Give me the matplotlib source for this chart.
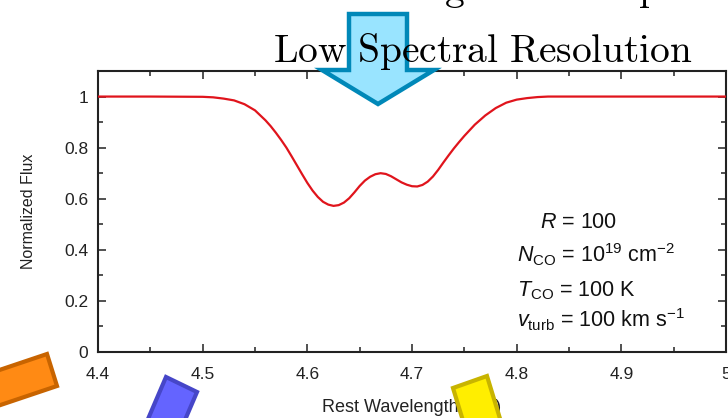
import numpy as np
import matplotlib
matplotlib.use('Agg')
import matplotlib.pyplot as plt
from matplotlib.patches import Polygon
from matplotlib.ticker import MultipleLocator, FormatStrFormatter

plt.rcParams['font.family'] = ['Liberation Sans', 'DejaVu Sans']
plt.rcParams['mathtext.fontset'] = 'custom'
plt.rcParams['mathtext.rm'] = 'Liberation Sans'
plt.rcParams['mathtext.it'] = 'Liberation Sans:italic'

# spectrum (rest wavelength in micron, normalized flux)
wave = [4.40, 4.45, 4.50, 4.51, 4.52, 4.53, 4.54, 4.55, 4.56, 4.565, 4.57, 4.575,
        4.58, 4.585, 4.59, 4.595, 4.60, 4.605, 4.61, 4.615, 4.62, 4.625, 4.63,
        4.635, 4.64, 4.645, 4.65, 4.655, 4.66, 4.665, 4.67, 4.675, 4.68, 4.685,
        4.69, 4.695, 4.70, 4.705, 4.71, 4.715, 4.72, 4.725, 4.73, 4.735, 4.74,
        4.745, 4.75, 4.76, 4.77, 4.78, 4.79, 4.80, 4.81, 4.82, 4.83, 4.90, 5.00]
flux = [1.000, 1.000, 0.999, 0.997, 0.992, 0.985, 0.970, 0.946, 0.907, 0.884, 0.858, 0.830,
        0.800, 0.766, 0.731, 0.696, 0.662, 0.632, 0.607, 0.588, 0.577, 0.572, 0.575,
        0.585, 0.602, 0.625, 0.650, 0.671, 0.686, 0.696, 0.700, 0.697, 0.688, 0.676,
        0.664, 0.655, 0.649, 0.648, 0.654, 0.667, 0.687, 0.713, 0.742, 0.770, 0.797,
        0.822, 0.846, 0.890, 0.926, 0.955, 0.976, 0.988, 0.994, 0.998, 1.000, 1.000, 1.000]

params = [r'$R$ = 100',
          r'$N_{\mathrm{CO}}$ = 10$^{19}$ cm$^{-2}$',
          r'$T_{\mathrm{CO}}$ = 100 K',
          r'$v_{\mathrm{turb}}$ = 100 km s$^{-1}$']
param_pos = [(0.704, 0.441), (0.667, 0.320), (0.667, 0.199), (0.667, 0.089)]

fig = plt.figure(figsize=(7.28, 4.18), dpi=100)
ax = fig.add_axes([0.1346, 0.1579, 0.8627, 0.6722])
ax.plot(wave, flux, color='#e0141c', lw=1.6, zorder=3)
ax.set_xlim(4.4, 5.0)
ax.set_ylim(0, 1.1)
ax.xaxis.set_major_locator(MultipleLocator(0.1))
ax.xaxis.set_minor_locator(MultipleLocator(0.05))
ax.yaxis.set_major_locator(MultipleLocator(0.2))
ax.yaxis.set_minor_locator(MultipleLocator(0.1))
ax.xaxis.set_major_formatter(FormatStrFormatter('%g'))
ax.yaxis.set_major_formatter(FormatStrFormatter('%g'))
ax.tick_params(which='both', direction='in', top=True, right=True,
               width=1.1, color='#222222', labelsize=12.5, labelcolor='#222222')
ax.tick_params(which='major', length=6)
ax.tick_params(which='minor', length=3.5)
ax.tick_params(axis='x', which='major', pad=11)
ax.tick_params(axis='y', which='major', pad=7)
for s in ax.spines.values():
    s.set_linewidth(1.5)
    s.set_color('#222222')
ax.set_xlabel('Rest Wavelength (\u03bcm)', fontsize=13, color='#222222', labelpad=12)
ax.set_ylabel('Normalized Flux', fontsize=11.5, color='#222222', labelpad=20)
for txt, (px, py) in zip(params, param_pos):
    ax.text(px, py, txt, transform=ax.transAxes, fontsize=15.5, va='baseline',
            color='#111111')

# slide decorations on top, in pixel coordinates
ov = fig.add_axes([0, 0, 1, 1], zorder=10)
ov.set_xlim(0, 728)
ov.set_ylim(418, 0)
ov.axis('off')
ov.patch.set_alpha(0)

arrow = [(349, 14), (407, 14), (407, 70), (434, 70), (378, 104), (322, 70), (349, 70)]
ov.add_patch(Polygon(arrow, closed=True, fc='#99e4ff', ec='#0088b8', lw=3.2, joinstyle='miter'))
ov.add_patch(Polygon([(-60, 390), (47, 354), (57, 386), (-50, 422)], closed=True,
                     fc='#ff8a14', ec='#c86400', lw=3))
ov.add_patch(Polygon([(166, 377), (197, 392), (170, 455), (139, 440)], closed=True,
                     fc='#6464ff', ec='#4646c8', lw=3))
ov.add_patch(Polygon([(453, 388), (487, 376), (505, 435), (471, 447)], closed=True,
                     fc='#ffee00', ec='#c8b400', lw=3))

ov.text(273, 62, r'$\mathrm{Low\ Spectral\ Resolution}$', fontsize=28.4,
        math_fontfamily='cm', ha='left', va='baseline', color='black', zorder=5)
ov.text(350, 0, r'$\mathrm{Strong\ CO\ absorption}$', fontsize=28.4,
        math_fontfamily='cm', ha='left', va='baseline', color='black', zorder=5)

fig.savefig('out.png', dpi=100)
